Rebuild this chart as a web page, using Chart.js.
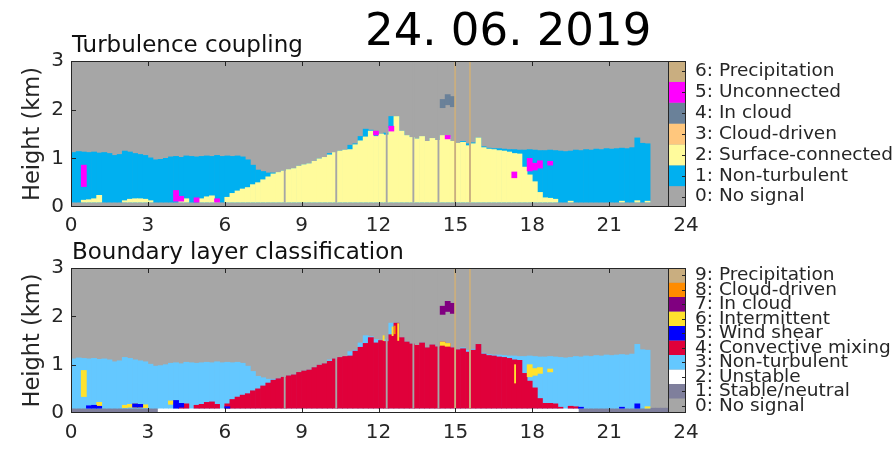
<!DOCTYPE html>
<html>
<head>
<meta charset="utf-8">
<script src="https://cdn.jsdelivr.net/npm/chart.js@4.4.1/dist/chart.umd.min.js"></script>
<style>
  html, body { margin: 0; padding: 0; background: #fff; width: 896px; height: 452px; overflow: hidden; }
  #date { position: absolute; left: 365px; top: 7px; font: 45px "DejaVu Sans"; line-height: 1; color: #000; white-space: pre; z-index: 2; }
  canvas { position: absolute; left: 0; }
</style>
</head>
<body>
<div id="date">24. 06. 2019</div>
<canvas id="coupling" width="896" height="240" style="top:0px"></canvas>
<canvas id="blclass" width="896" height="212" style="top:240px"></canvas>
<script>
// ---- time / height grid -------------------------------------------------
const STEP = 0.2;                       // hours per profile column
const hourTicks = [0, 3, 6, 9, 12, 15, 18, 21, 24];
const heightTicks = [0, 1, 2, 3];
const lowestGate = 0.1;                 // km, first usable range gate

// ---- profile tops (km), one value per 0.2 h column starting at 00 UTC ----
// top of the detected signal (non-turbulent layer or turbulent layer)
const signalTop = [
  1.12, 1.14, 1.13, 1.12, 1.13, 1.11, 1.12, 1.10, 1.06, 1.08,
  1.15, 1.13, 1.10, 1.08, 1.06, 1.01, 0.97, 0.98, 1.00, 1.03,
  1.04, 1.02, 1.05, 1.04, 1.03, 1.04, 1.05, 1.04, 1.06, 1.04,
  1.05, 1.04, 1.05, 1.03, 0.97, 0.86, 0.76, 0.73, 0.70, 0.70,
  0.71, 0.74, 0.77, 0.79, 0.84, 0.87, 0.89, 0.94, 0.99, 1.02,
  1.10, 1.12, 1.15, 1.17, 1.27, 1.30, 1.45, 1.60, 1.58, 1.52,
  1.50, 1.52, 1.86, 1.86, 1.56, 1.47, 1.43, 1.40, 1.45, 1.35,
  1.41, 1.37, 1.47, 1.44, 1.35, 1.31, 1.35, 1.30, 1.32, 1.42,
  1.24, 1.21, 1.20, 1.20, 1.19, 1.18, 1.18, 1.17, 1.17, 1.18,
  1.17, 1.16, 1.16, 1.17, 1.16, 1.15, 1.14, 1.15, 1.17, 1.16,
  1.18, 1.17, 1.19, 1.18, 1.20, 1.19, 1.20, 1.21, 1.20, 1.22,
  1.42, 1.31, 1.30
];
// top of the surface-connected turbulent layer
const surfaceTop = [
  0.10, 0.10, 0.14, 0.15, 0.17, 0.24, 0.10, 0.10, 0.10, 0.10,
  0.13, 0.16, 0.17, 0.17, 0.16, 0.13, 0.10, 0.10, 0.10, 0.10,
  0.10, 0.15, 0.17, 0.10, 0.10, 0.17, 0.21, 0.23, 0.12, 0.10,
  0.20, 0.28, 0.33, 0.37, 0.40, 0.46, 0.50, 0.56, 0.62, 0.68,
  0.71, 0.74, 0.77, 0.79, 0.84, 0.87, 0.89, 0.94, 0.99, 1.02,
  1.07, 1.12, 1.15, 1.17, 1.18, 1.28, 1.36, 1.44, 1.56, 1.45,
  1.50, 1.48, 1.62, 1.86, 1.56, 1.47, 1.43, 1.40, 1.45, 1.35,
  1.41, 1.37, 1.47, 1.44, 1.35, 1.31, 1.33, 1.26, 1.30, 1.42,
  1.22, 1.19, 1.18, 1.16, 1.15, 1.13, 1.10, 1.09, 0.82, 0.66,
  0.52, 0.30, 0.19, 0.18, 0.16, 0.10, 0.10, 0.12, 0.10, 0.10,
  0.10, 0.10, 0.10, 0.10, 0.10, 0.10, 0.10, 0.12, 0.10, 0.10,
  0.13, 0.10, 0.12
];
// top of the convective mixing layer
const convectiveTop = [
  0.10, 0.10, 0.10, 0.10, 0.10, 0.10, 0.10, 0.10, 0.10, 0.10,
  0.10, 0.10, 0.10, 0.10, 0.10, 0.10, 0.10, 0.10, 0.10, 0.10,
  0.10, 0.18, 0.19, 0.10, 0.16, 0.18, 0.22, 0.23, 0.18, 0.10,
  0.19, 0.28, 0.33, 0.37, 0.40, 0.46, 0.50, 0.56, 0.62, 0.68,
  0.71, 0.74, 0.77, 0.79, 0.84, 0.87, 0.89, 0.94, 0.99, 1.02,
  1.07, 1.12, 1.15, 1.17, 1.18, 1.28, 1.36, 1.44, 1.56, 1.45,
  1.50, 1.48, 1.62, 1.86, 1.56, 1.47, 1.43, 1.40, 1.45, 1.35,
  1.41, 1.37, 1.47, 1.44, 1.35, 1.31, 1.33, 1.26, 1.30, 1.42,
  1.22, 1.19, 1.18, 1.16, 1.15, 1.13, 1.10, 1.09, 0.82, 0.66,
  0.52, 0.30, 0.20, 0.20, 0.19, 0.12, 0.10, 0.14, 0.13, 0.10,
  0.10, 0.10, 0.10, 0.10, 0.10, 0.10, 0.10, 0.10, 0.10, 0.10,
  0.10, 0.10, 0.10
];

// ---- isolated patches: [hour, bottom km, top km] -------------------------
const unconnectedPatches = [
  [0.5, 0.42, 0.86], [4.1, 0.12, 0.34], [4.3, 0.12, 0.22], [4.9, 0.10, 0.19], [5.7, 0.10, 0.17],
  [11.9, 1.48, 1.56], [12.5, 1.56, 1.66], [14.7, 1.40, 1.47],
  [17.3, 0.60, 0.72], [17.9, 0.74, 1.00], [18.1, 0.76, 0.90], [18.3, 0.80, 0.95], [18.7, 0.86, 0.94]
];
const inCloudPatches = [[14.5, 2.04, 2.21], [14.7, 2.10, 2.31], [14.9, 2.06, 2.27]];
const shearPatches = [
  [0.7, 0.10, 0.15], [0.9, 0.10, 0.16], [1.1, 0.10, 0.14], [2.5, 0.12, 0.19], [2.7, 0.12, 0.18],
  [4.1, 0.10, 0.26], [4.3, 0.12, 0.20], [6.1, 0.10, 0.13],
  [19.9, 0.10, 0.12], [21.5, 0.10, 0.12], [22.1, 0.10, 0.19]
];
const intermittentPatches = [
  [0.5, 0.34, 0.88], [1.1, 0.13, 0.22], [2.1, 0.11, 0.16], [2.3, 0.12, 0.18], [2.5, 0.11, 0.19],
  [2.7, 0.11, 0.18], [2.9, 0.11, 0.17], [3.9, 0.18, 0.25],
  [14.5, 1.40, 1.47], [14.7, 1.38, 1.44],
  [17.9, 0.75, 1.00], [18.1, 0.78, 0.92], [18.3, 0.82, 0.94], [18.7, 0.85, 0.91], [22.5, 0.10, 0.13]
];
// single-profile streaks: [hour, bottom km, top km]
const intermittentStreaks = [[12.2, 1.50, 1.60], [12.55, 1.60, 1.78], [12.77, 1.50, 1.85], [17.33, 0.62, 1.00]];
const cloudDrivenStreaks = [[12.63, 1.64, 1.80]];
const dataGapHours = [8.34, 10.35, 12.32, 13.36, 14.34];
const precipHours = [14.99, 15.57];
// near-surface stability: stable/neutral runs (hours), unstable otherwise
const stableRuns = [[0, 3.4], [19.8, 24]];

// ---- class legends --------------------------------------------------------
const couplingClasses = ['0: No signal', '1: Non-turbulent', '2: Surface-connected', '3: Cloud-driven',
  '4: In cloud', '5: Unconnected', '6: Precipitation'];
const blClasses = ['0: No signal', '1: Stable/neutral', '2: Unstable', '3: Non-turbulent',
  '4: Convective mixing', '5: Wind shear', '6: Intermittent', '7: In cloud', '8: Cloud-driven', '9: Precipitation'];
const couplingColors = ['#a6a6a6', '#00b0f0', '#fffb9c', '#ffc77d', '#6a8199', '#ff00ff', '#c9ae80'];
const blColors = ['#a6a6a6', '#7f7f9c', '#ffffff', '#64c8ff', '#e0003a', '#0000ff', '#ffe22e', '#800080', '#ff8c00', '#c9ae80'];

// ---- table building -------------------------------------------------------
const hours = signalTop.map((_, i) => +(STEP / 2 + STEP * i).toFixed(1));
const toColumns = (tops, base) => tops.flatMap((top, i) => top > base ? [{ x: hours[i], y: [base, top] }] : []);
const toPatches = list => list.map(([h, lo, hi]) => ({ x: h, y: [lo, hi] }));
const toLines = (hrs, lo, hi) => hrs.map(h => ({ x: h, y: [lo, hi] }));
const stripHours = Array.from({ length: Math.round(24 / STEP) }, (_, i) => +(STEP / 2 + STEP * i).toFixed(1));
const isStable = h => stableRuns.some(([a, b]) => h > a && h < b);

function layer(label, data, color, thin) {
  const ds = { label, data, backgroundColor: color, borderWidth: 0, grouped: false,
    barPercentage: 1, categoryPercentage: 1, xAxisID: thin ? 'xThin' : 'x' };
  if (thin) ds.barThickness = 1.2;
  return ds;
}
// listed bottom-most first
function stackOrder(list) { list.forEach((d, i) => { d.order = list.length - i; }); return list; }

const TEXT = '#262626';
Chart.defaults.font.family = '"DejaVu Sans"';

function decorations(cfg) {
  return {
    id: 'deco',
    beforeDatasetsDraw(chart) {
      const { ctx, chartArea: a } = chart;
      ctx.save();
      ctx.fillStyle = cfg.colors[0];
      ctx.fillRect(a.left, a.top, a.right - a.left, a.bottom - a.top);
      ctx.restore();
    },
    afterDatasetsDraw(chart) {
      const { ctx, chartArea: a, scales } = chart;
      ctx.save();
      ctx.strokeStyle = TEXT;
      ctx.lineWidth = 1;
      ctx.strokeRect(a.left + 0.5, a.top + 0.5, a.right - a.left - 1, a.bottom - a.top - 1);
      ctx.beginPath();
      hourTicks.slice(1, -1).forEach(v => {
        const px = Math.round(scales.x.getPixelForValue(v)) + 0.5;
        ctx.moveTo(px, a.top); ctx.lineTo(px, a.top + 5);
        ctx.moveTo(px, a.bottom); ctx.lineTo(px, a.bottom - 5);
      });
      heightTicks.slice(1, -1).forEach(v => {
        const py = Math.round(scales.y.getPixelForValue(v)) + 0.5;
        ctx.moveTo(a.left, py); ctx.lineTo(a.left + 5, py);
      });
      ctx.stroke();
      ctx.restore();
    },
    afterDraw(chart) {
      const { ctx, chartArea: a } = chart;
      const n = cfg.colors.length, w = 18, x0 = a.right - w, h = (a.bottom - a.top) / n;
      ctx.save();
      // colour bar
      cfg.colors.forEach((c, i) => {
        ctx.fillStyle = c;
        ctx.fillRect(x0, a.bottom - (i + 1) * h, w, h);
      });
      ctx.strokeStyle = TEXT;
      ctx.lineWidth = 1;
      ctx.strokeRect(x0 + 0.5, a.top + 0.5, w - 1, a.bottom - a.top - 1);
      ctx.beginPath();
      for (let i = 0; i < n; i++) {
        const y = Math.round(a.bottom - (i + 0.5) * h) + 0.5;
        ctx.moveTo(a.right - 1, y); ctx.lineTo(a.right - 4, y);
      }
      ctx.stroke();
      ctx.fillStyle = TEXT;
      ctx.font = '18.5px "DejaVu Sans"';
      ctx.textAlign = 'left';
      ctx.textBaseline = 'middle';
      cfg.labels.forEach((t, i) => ctx.fillText(t, a.right + 9, a.bottom - (i + 0.5) * h));
      // panel title
      ctx.fillStyle = '#111';
      ctx.font = '23px "DejaVu Sans"';
      ctx.textBaseline = 'alphabetic';
      ctx.fillText(cfg.title, a.left + 1, a.top - 9.5);
      // height axis title
      ctx.fillStyle = TEXT;
      ctx.translate(33, (a.top + a.bottom) / 2);
      ctx.rotate(-Math.PI / 2);
      ctx.textAlign = 'center';
      ctx.textBaseline = 'middle';
      ctx.font = '22.5px "DejaVu Sans"';
      ctx.fillText('Height (km)', 0, 0);
      ctx.restore();
    }
  };
}

function panel(canvasId, datasets, cfg) {
  return new Chart(document.getElementById(canvasId), {
    type: 'bar',
    data: { datasets },
    options: {
      responsive: false, animation: false, devicePixelRatio: 1, events: [],
      layout: { padding: { top: cfg.padTop, right: cfg.padRight, left: 0, bottom: 0 } },
      plugins: { legend: { display: false }, tooltip: { enabled: false } },
      scales: {
        x: {
          type: 'linear', min: 0, max: 24, offset: false,
          grid: { display: false, drawTicks: false }, border: { display: false },
          ticks: { color: TEXT, font: { size: 20 }, padding: cfg.tickPad, maxRotation: 0, autoSkip: false },
          afterBuildTicks: s => { s.ticks = hourTicks.map(v => ({ value: v })); },
          afterFit: s => { s.height = cfg.xAxisHeight; }
        },
        xThin: { type: 'linear', min: 0, max: 24, offset: false, display: false },
        y: {
          type: 'linear', min: 0, max: 3,
          grid: { display: false, drawTicks: false }, border: { display: false },
          ticks: { color: TEXT, font: { size: 20 }, padding: 7 },
          afterBuildTicks: s => { s.ticks = heightTicks.map(v => ({ value: v })); },
          afterFit: s => { s.width = 71; }
        }
      }
    },
    plugins: [decorations(cfg)]
  });
}

// ---- turbulence coupling --------------------------------------------------
panel('coupling', stackOrder([
  layer('Non-turbulent', toColumns(signalTop, lowestGate), couplingColors[1]),
  layer('Surface-connected', toColumns(surfaceTop, lowestGate), couplingColors[2]),
  layer('Unconnected', toPatches(unconnectedPatches), couplingColors[5]),
  layer('In cloud', toPatches(inCloudPatches), couplingColors[4]),
  layer('No signal', toLines(dataGapHours, lowestGate, 3), couplingColors[0], true),
  layer('Precipitation', toLines(precipHours, lowestGate, 3), couplingColors[6], true)
]), { title: 'Turbulence coupling', labels: couplingClasses, colors: couplingColors,
     padTop: 61, padRight: 210, xAxisHeight: 33, tickPad: 7 });

// ---- boundary layer classification ---------------------------------------
panel('blclass', stackOrder([
  layer('Stable/neutral', stripHours.filter(isStable).map(h => ({ x: h, y: [0, lowestGate] })), blColors[1]),
  layer('Unstable', stripHours.filter(h => !isStable(h)).map(h => ({ x: h, y: [0, lowestGate] })), blColors[2]),
  layer('Non-turbulent', toColumns(signalTop, lowestGate), blColors[3]),
  layer('Convective mixing', toColumns(convectiveTop, lowestGate), blColors[4]),
  layer('Intermittent', toPatches(intermittentPatches), blColors[6]),
  layer('Wind shear', toPatches(shearPatches), blColors[5]),
  layer('Intermittent', toPatches(intermittentStreaks), blColors[6], true),
  layer('Cloud-driven', toPatches(cloudDrivenStreaks), blColors[8], true),
  layer('In cloud', toPatches(inCloudPatches), blColors[7]),
  layer('No signal', toLines(dataGapHours, lowestGate, 3), blColors[0], true),
  layer('Precipitation', toLines(precipHours, lowestGate, 3), blColors[9], true)
]), { title: 'Boundary layer classification', labels: blClasses, colors: blColors,
     padTop: 28, padRight: 210, xAxisHeight: 39, tickPad: 8 });
</script>
</body>
</html>
